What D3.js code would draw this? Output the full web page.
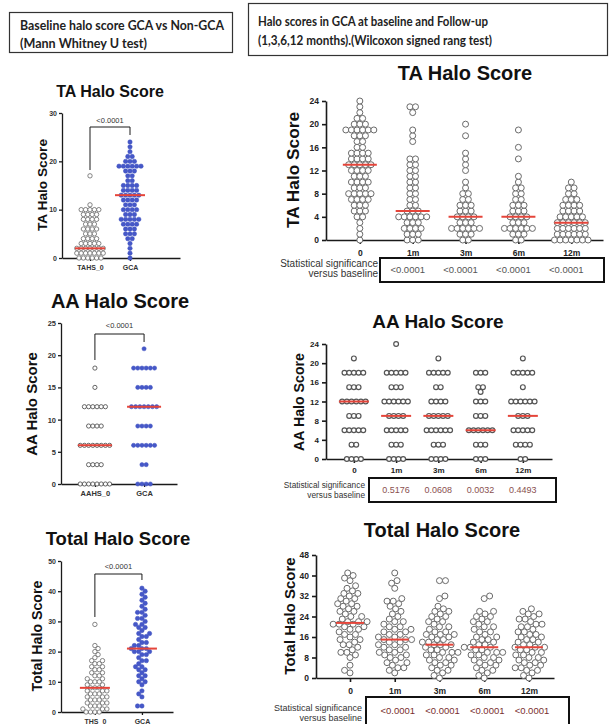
<!DOCTYPE html>
<html>
<head>
<meta charset="utf-8">
<script src="https://cdn.jsdelivr.net/npm/d3@7"></script>
<style>
  body { margin: 0; background: #fff; }
  svg text { font-family: "Liberation Sans", Arial, sans-serif; }
  .hdr { font-family: Lato, "Open Sans", sans-serif !important; font-weight: bold; }
</style>
</head>
<body>
<svg id="fig" width="614" height="724"></svg>
<script>
// ---- data: [value, number of patients] ----
const leftHeader = ['Baseline halo score GCA vs Non-GCA', '(Mann Whitney U test)'];
const rightHeader = ['Halo scores in GCA at baseline and Follow-up', '(1,3,6,12 months).(Wilcoxon signed rang test)'];
const sigLabel = ['Statistical significance', 'versus baseline'];

const taLeftCats = ['TAHS_0', 'GCA'];
const aaLeftCats = ['AAHS_0', 'GCA'];
const totalLeftCats = ['THS_0', 'GCA'];
const followCats = ['0', '1m', '3m', '6m', '12m'];

const leftP = ['<0.0001', '<0.0001', '<0.0001'];
const taFollowP = ['<0.0001', '<0.0001', '<0.0001', '<0.0001'];
const aaFollowP = ['0.5176', '0.0608', '0.0032', '0.4493'];
const totalFollowP = ['<0.0001', '<0.0001', '<0.0001', '<0.0001'];

const taLeftMedians = [2, 13];
const aaLeftMedians = [6, 12];
const totalLeftMedians = [8, 21];
const taFollowMedians = [13, 5, 4, 4, 3];
const aaFollowMedians = [12, 9, 9, 6, 9];
const totalFollowMedians = [21.5, 15, 13, 12, 12];

const taTahs0 = [[0,6],[1,7],[2,7],[3,5],[4,4],[5,3],[6,4],[7,3],[8,4],[9,4],[10,5],[11,1],[17,1]];
const taGca = [[0,1],[1,1],[2,1],[3,1],[4,2],[5,3],[6,3],[7,4],[8,5],[9,3],[10,4],[11,3],[12,4],[13,5],[14,4],[15,4],[16,2],[17,2],[18,3],[19,6],[20,3],[21,2],[22,1],[23,1],[24,1]];
const ta1m = [[0,3],[1,3],[2,4],[3,3],[4,6],[5,3],[6,2],[7,2],[8,2],[9,2],[10,2],[11,2],[12,2],[13,2],[14,2],[17,1],[18,1],[19,1],[22,1],[23,2]];
const ta3m = [[0,2],[1,3],[2,6],[3,3],[4,4],[5,3],[6,3],[7,2],[8,2],[9,1],[10,1],[12,1],[13,1],[14,1],[15,1],[18,1],[20,1]];
const ta6m = [[0,2],[1,3],[2,6],[3,3],[4,4],[5,3],[6,3],[7,2],[8,2],[9,2],[10,1],[11,1],[14,1],[16,1],[19,1]];
const ta12m = [[0,7],[1,6],[2,6],[3,6],[4,5],[5,4],[6,4],[7,3],[8,2],[9,2],[10,1]];

const aaAahs0 = [[0,8],[3,4],[6,8],[9,4],[12,6],[15,1],[18,1]];
const aaGca = [[0,4],[3,2],[6,6],[9,4],[12,7],[15,4],[18,6],[21,1]];
const aa0 = [[0,4],[3,2],[6,5],[9,3],[12,6],[15,3],[18,5],[21,1]];
const aa1m = [[0,4],[3,3],[6,5],[9,4],[12,6],[15,3],[18,5],[24,1]];
const aa3m = [[0,4],[3,3],[6,6],[9,5],[12,4],[15,2],[18,5],[21,1]];
const aa6m = [[0,3],[3,3],[6,6],[9,3],[12,3],[14,1],[15,2],[18,3]];
const aa12m = [[0,2],[3,4],[6,5],[9,3],[12,6],[15,1],[18,5],[21,1]];

const totThs0 = [[0,4],[1,3],[2,3],[3,3],[4,3],[5,3],[6,3],[7,3],[8,3],[9,2],[10,3],[11,2],[12,2],[13,2],[14,2],[15,2],[16,2],[17,2],[18,1],[19,1],[20,1],[21,1],[22,1],[29,1]];
const totGca = [[2,2],[5,1],[6,1],[7,1],[9,1],[10,2],[11,1],[12,2],[13,1],[14,2],[15,2],[16,1],[17,2],[18,1],[19,2],[20,3],[21,3],[22,2],[23,2],[24,1],[25,2],[26,2],[27,1],[28,2],[29,2],[30,1],[31,2],[32,1],[33,2],[34,1],[35,1],[36,1],[37,1],[38,1],[39,1],[40,1],[41,1]];
const tot0 = [[2,1],[3,1],[5,1],[8,1],[9,1],[10,2],[11,1],[12,1],[13,2],[14,1],[15,2],[16,1],[17,2],[18,1],[19,2],[20,2],[21,3],[22,3],[23,1],[24,2],[25,1],[26,2],[27,1],[28,2],[29,2],[30,1],[31,2],[32,1],[33,2],[34,1],[35,1],[36,1],[38,1],[39,1],[40,1],[41,1]];
const tot1m = [[2,1],[3,1],[4,2],[5,1],[6,2],[7,1],[8,2],[9,2],[10,2],[11,2],[12,2],[13,2],[14,2],[15,3],[16,2],[17,2],[18,2],[19,2],[20,2],[21,1],[22,2],[23,1],[24,1],[25,1],[26,1],[27,1],[28,1],[29,1],[30,2],[31,1],[35,1],[37,1],[38,1],[41,1]];
const tot3m = [[0,1],[1,1],[2,1],[3,2],[4,1],[5,2],[6,2],[7,2],[8,2],[9,2],[10,3],[11,2],[12,2],[13,3],[14,2],[15,2],[16,2],[17,3],[18,2],[19,1],[20,2],[21,1],[22,2],[23,1],[24,2],[25,1],[26,2],[27,1],[28,1],[31,1],[32,1],[38,2]];
const tot6m = [[0,1],[1,1],[2,1],[3,2],[4,1],[5,2],[6,2],[7,2],[8,2],[9,2],[10,3],[11,2],[12,3],[13,2],[14,2],[15,2],[16,2],[17,1],[18,2],[19,1],[20,2],[21,1],[22,2],[23,1],[24,2],[25,1],[26,2],[31,1],[32,1]];
const tot12m = [[0,1],[1,1],[2,1],[3,2],[4,2],[5,2],[6,2],[7,2],[8,2],[9,2],[10,2],[11,2],[12,3],[13,2],[14,2],[15,2],[16,2],[17,2],[18,2],[19,1],[20,2],[21,2],[22,1],[23,2],[24,1],[25,2],[26,1],[27,1]];

const RED = '#e5453a';
const svg = d3.select('#fig');

// header boxes
function header(lines, box, x0, ys, lens) {
  svg.append('rect').attr('x', box[0]).attr('y', box[1]).attr('width', box[2]).attr('height', box[3])
    .attr('fill', 'none').attr('stroke', '#333').attr('stroke-width', 1.2);
  lines.forEach((t, i) => {
    svg.append('text').attr('class', 'hdr').attr('x', x0).attr('y', ys[i])
      .attr('textLength', lens[i]).attr('lengthAdjust', 'spacingAndGlyphs')
      .style('font-size', '13.5px').attr('fill', '#222').text(t);
  });
}
header(leftHeader, [9.5, 12.5, 223, 40], 20, [29.5, 47.5], [204, 127]);
header(rightHeader, [248.5, 3.5, 359, 52], 258, [26, 45], [230, 234]);

// one row per tied value, centred
function rowLayout(grp, y, step) {
  const pts = [];
  grp.forEach(([v, c]) => {
    for (let k = 0; k < c; k++) pts.push({ dx: (k - (c - 1) / 2) * step, cy: y(v) });
  });
  return pts;
}

// simple beeswarm: closest free spot to the centre
function swarmLayout(grp, y, d) {
  const ys = [];
  grp.forEach(([v, c]) => { for (let k = 0; k < c; k++) ys.push(y(v)); });
  ys.sort((a, b) => b - a);
  const placed = [];
  ys.forEach((cy, n) => {
    const near = placed.filter(p => Math.abs(p.cy - cy) < d);
    const cands = [0];
    near.forEach(p => {
      const w = Math.sqrt(d * d - (p.cy - cy) ** 2);
      cands.push(p.dx - w, p.dx + w);
    });
    const side = n % 2 ? 1 : -1;
    cands.sort((a, b) => Math.abs(a) - Math.abs(b) || side * (a - b));
    const dx = cands.find(c => near.every(p => (p.dx - c) ** 2 + (p.cy - cy) ** 2 >= d * d - 0.01));
    placed.push({ dx, cy });
  });
  return placed;
}

function drawPanel(p) {
  const g = svg.append('g');
  const x = d3.scaleLinear().domain(p.xDomain).range(p.xRange);
  const y = d3.scaleLinear().domain(p.yDomain).range(p.yRange);

  g.append('text').attr('x', p.titleX).attr('y', p.titleY).attr('text-anchor', 'middle')
    .style('font-size', p.titleSize + 'px').style('font-weight', 'bold').attr('fill', '#111').text(p.title);
  g.append('text').attr('transform', `translate(${p.yTitleX},${p.yTitleY}) rotate(-90)`)
    .attr('text-anchor', 'middle').attr('dy', '0.36em')
    .style('font-size', p.yTitleSize + 'px').style('font-weight', 'bold').attr('fill', '#111').text(p.title);

  const yAxis = g.append('g').attr('transform', `translate(${p.xRange[0]},0)`)
    .call(d3.axisLeft(y).tickValues(p.yTicks).tickSize(p.tickLen).tickSizeOuter(0).tickPadding(p.tickPad));
  const xAxis = g.append('g').attr('transform', `translate(0,${p.yRange[0]})`)
    .call(d3.axisBottom(x).tickValues(d3.range(p.cats.length)).tickFormat(i => p.cats[i])
      .tickSize(p.tickLen).tickSizeOuter(0));
  [yAxis, xAxis].forEach(a => {
    a.select('.domain').attr('stroke', '#1a1a1a').attr('stroke-width', p.axisWidth);
    a.selectAll('.tick line').attr('stroke', '#1a1a1a').attr('stroke-width', p.axisWidth);
    a.selectAll('.tick text').style('font-size', p.tickSize + 'px').style('font-weight', 'bold').attr('fill', p.tickColor);
  });
  xAxis.selectAll('.tick text').attr('y', p.xLabelY - p.yRange[0]).attr('dy', null);

  p.groups.forEach((grp, i) => {
    const pts = p.layout === 'rows' ? rowLayout(grp, y, p.step) : swarmLayout(grp, y, p.r * 2);
    const filled = p.filled && p.filled[i];
    g.append('g').selectAll('circle').data(pts).join('circle')
      .attr('cx', d => x(i) + d.dx).attr('cy', d => d.cy).attr('r', p.r)
      .attr('fill', filled ? '#4658c8' : '#fff')
      .attr('stroke', filled ? '#3d4fbf' : p.dotStroke)
      .attr('stroke-width', filled ? 0.5 : p.dotWidth);
  });

  g.append('g').selectAll('line').data(p.medians).join('line')
    .attr('x1', (d, i) => x(i) - p.medW / 2).attr('x2', (d, i) => x(i) + p.medW / 2)
    .attr('y1', d => y(d)).attr('y2', d => y(d))
    .attr('stroke', RED).attr('stroke-width', 2);

  if (p.bracket) {
    const b = p.bracket;
    g.append('path')
      .attr('d', `M${x(0)},${b.legs[0]}V${b.top}H${x(1)}V${b.legs[1]}`)
      .attr('fill', 'none').attr('stroke', '#1a1a1a').attr('stroke-width', 1);
    g.append('text').attr('x', (x(0) + x(1)) / 2).attr('y', b.textY).attr('text-anchor', 'middle')
      .style('font-size', '7.5px').attr('fill', '#333').text(p.pText);
  }

  if (p.sig) {
    const s = p.sig;
    sigLabel.forEach((t, i) => {
      g.append('text').attr('x', s.labelX).attr('y', s.labelY[i]).attr('text-anchor', 'end')
        .style('font-size', s.labelSize + 'px').attr('fill', '#333').text(t);
    });
    g.append('rect').attr('x', s.box[0]).attr('y', s.box[1]).attr('width', s.box[2]).attr('height', s.box[3])
      .attr('fill', 'none').attr('stroke', '#111').attr('stroke-width', 2);
    g.append('g').selectAll('text').data(s.values).join('text')
      .attr('x', (d, i) => x(i + 1) + s.offset).attr('y', s.valueY).attr('text-anchor', 'middle')
      .style('font-size', s.valueSize + 'px').attr('fill', s.color).text(d => d);
  }
}

// left column
drawPanel({
  title: 'TA Halo Score', titleX: 110, titleY: 97, titleSize: 16, yTitleX: 42, yTitleY: 185, yTitleSize: 13.7,
  cats: taLeftCats, groups: [taTahs0, taGca], medians: taLeftMedians, filled: [false, true],
  xDomain: [-0.7, 2.25], xRange: [62, 180], yDomain: [0, 30], yRange: [258, 113], yTicks: [0, 10, 20, 30],
  tickLen: 3, tickPad: 2, tickSize: 7, tickColor: '#333', xLabelY: 270, axisWidth: 1.3,
  layout: 'rows', r: 2.2, step: 4.4, dotStroke: '#666', dotWidth: 0.8, medW: 30,
  bracket: { top: 127, legs: [170, 135], textY: 123 }, pText: leftP[0]
});
drawPanel({
  title: 'AA Halo Score', titleX: 120, titleY: 308, titleSize: 20, yTitleX: 32, yTitleY: 404, yTitleSize: 15,
  cats: aaLeftCats, groups: [aaAahs0, aaGca], medians: aaLeftMedians, filled: [false, true],
  xDomain: [-0.69, 1.67], xRange: [61, 177], yDomain: [0, 25], yRange: [484, 323], yTicks: [0, 5, 10, 15, 20, 25],
  tickLen: 3, tickPad: 2, tickSize: 7.5, tickColor: '#333', xLabelY: 496, axisWidth: 1.3,
  layout: 'rows', r: 2.1, step: 4.2, dotStroke: '#555', dotWidth: 0.9, medW: 34,
  bracket: { top: 334, legs: [360, 342], textY: 328 }, pText: leftP[1]
});
drawPanel({
  title: 'Total Halo Score', titleX: 118, titleY: 545, titleSize: 18.5, yTitleX: 37, yTitleY: 636, yTitleSize: 14.2,
  cats: totalLeftCats, groups: [totThs0, totGca], medians: totalLeftMedians, filled: [false, true],
  xDomain: [-0.72, 1.66], xRange: [61, 173], yDomain: [0, 50], yRange: [712, 561], yTicks: [0, 10, 20, 30, 40, 50],
  tickLen: 3, tickPad: 2, tickSize: 7, tickColor: '#333', xLabelY: 723.5, axisWidth: 1.3,
  layout: 'swarm', r: 2.2, dotStroke: '#666', dotWidth: 0.8, medW: 30,
  bracket: { top: 574, legs: [617, 580], textY: 569 }, pText: leftP[2]
});

// right column
drawPanel({
  title: 'TA Halo Score', titleX: 465, titleY: 80, titleSize: 20, yTitleX: 293, yTitleY: 170, yTitleSize: 17.3,
  cats: followCats, groups: [taGca, ta1m, ta3m, ta6m, ta12m], medians: taFollowMedians,
  xDomain: [-0.64, 4.6], xRange: [326, 603], yDomain: [0, 24], yRange: [240, 101], yTicks: d3.range(0, 25, 4),
  tickLen: 4, tickPad: 3, tickSize: 8.5, tickColor: '#222', xLabelY: 255.5, axisWidth: 1.6,
  layout: 'rows', r: 3, step: 5.6, dotStroke: '#6a6a6a', dotWidth: 1, medW: 34,
  sig: { labelX: 378, labelY: [266.5, 276.5], labelSize: 10, box: [380, 258, 224, 24], values: taFollowP,
    offset: -5, valueY: 273, valueSize: 9.5, color: '#555' }
});
drawPanel({
  title: 'AA Halo Score', titleX: 438, titleY: 328, titleSize: 19, yTitleX: 299, yTitleY: 402, yTitleSize: 14.2,
  cats: followCats, groups: [aa0, aa1m, aa3m, aa6m, aa12m], medians: aaFollowMedians,
  xDomain: [-0.66, 4.69], xRange: [326, 552], yDomain: [0, 24], yRange: [459, 344], yTicks: d3.range(0, 25, 4),
  tickLen: 4, tickPad: 3, tickSize: 8, tickColor: '#222', xLabelY: 473, axisWidth: 1.6,
  layout: 'rows', r: 2.4, step: 4.7, dotStroke: '#555', dotWidth: 1.2, medW: 30,
  sig: { labelX: 365, labelY: [487.5, 497.5], labelSize: 8.3, box: [369, 478, 187, 24], values: aaFollowP,
    offset: 0, valueY: 492.5, valueSize: 9, color: '#8a4f4f' }
});
drawPanel({
  title: 'Total Halo Score', titleX: 442, titleY: 537, titleSize: 20, yTitleX: 290, yTitleY: 616, yTitleSize: 15,
  cats: followCats, groups: [tot0, tot1m, tot3m, tot6m, tot12m], medians: totalFollowMedians,
  xDomain: [-0.76, 4.56], xRange: [316, 554], yDomain: [0, 48], yRange: [678, 555], yTicks: d3.range(0, 49, 8),
  tickLen: 4, tickPad: 3, tickSize: 8.5, tickColor: '#222', xLabelY: 694, axisWidth: 1.6,
  layout: 'swarm', r: 3, dotStroke: '#6a6a6a', dotWidth: 1, medW: 28,
  sig: { labelX: 362, labelY: [711, 721], labelSize: 9, box: [366, 697, 203, 32], values: totalFollowP,
    offset: 3, valueY: 714, valueSize: 9.5, color: '#7a2f2f' }
});
</script>
</body>
</html>
